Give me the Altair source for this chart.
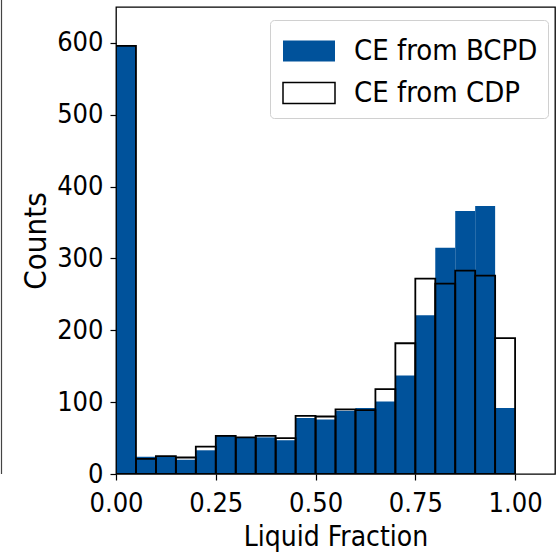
import altair as alt
import pandas as pd

bin_starts = [0.00, 0.05, 0.10, 0.15, 0.20, 0.25, 0.30, 0.35, 0.40, 0.45,
              0.50, 0.55, 0.60, 0.65, 0.70, 0.75, 0.80, 0.85, 0.90, 0.95]
bcpd_counts = [596, 24, 25, 20, 33, 53, 50, 51, 47, 78,
               76, 88, 92, 101, 137, 221, 315, 366, 373, 92]
cdp_counts = [596, 21, 25, 23, 38, 53, 51, 53, 50, 81,
              80, 90, 89, 118, 182, 272, 265, 283, 276, 189]
series_names = ["CE from BCPD", "CE from CDP"]
bin_width = 0.05

rows = []
for name, counts in zip(series_names, [bcpd_counts, cdp_counts]):
    for s, c in zip(bin_starts, counts):
        rows.append({"series": name, "start": s, "end": round(s + bin_width, 2), "count": c})
df = pd.DataFrame(rows)

FONT = "DejaVu Sans Condensed, DejaVu Sans"
BLUE = "#00529B"

bars = alt.Chart(df).mark_bar(strokeWidth=1.8, clip=True).encode(
    x=alt.X("start:Q",
            scale=alt.Scale(domain=[0, 1.1], nice=False, zero=False),
            axis=alt.Axis(values=[0, 0.25, 0.5, 0.75, 1.0], format=".2f",
                          title="Liquid Fraction", titleX=219.5, titleY=71,
                          titleBaseline="alphabetic", labelPadding=10,
                          labelBaseline="top", labelFlush=False)),
    x2="end:Q",
    y=alt.Y("count:Q", stack=None,
            scale=alt.Scale(domain=[0, 650], nice=False),
            axis=alt.Axis(values=[0, 100, 200, 300, 400, 500, 600],
                          title="Counts", titleX=-80, titleY=233.5,
                          titleAngle=270, titleBaseline="middle",
                          titleAlign="center", labelPadding=7,
                          labelFlush=False, labelFontSize=27,
                          titleFontSize=31)),
    y2=alt.datum(0),
    fill=alt.Fill("series:N",
                  scale=alt.Scale(domain=series_names, range=[BLUE, "transparent"]),
                  legend=alt.Legend(title=None)),
    stroke=alt.Stroke("series:N",
                      scale=alt.Scale(domain=series_names, range=["transparent", "black"]),
                      legend=alt.Legend(title=None)),
)

edge = alt.Chart(pd.DataFrame({"a": [0]})).mark_rule(
    color="#444444", strokeWidth=1.2, clip=False
).encode(x=alt.value(-114.5), y=alt.value(-7), y2=alt.value(467))

chart = alt.layer(bars, edge).properties(
    width=439, height=467,
    autosize=alt.AutoSizeParams(type="none"),
    padding={"left": 116, "top": 7, "right": 5, "bottom": 80},
).configure_view(
    stroke="black", strokeWidth=1.3
).configure_axis(
    grid=False, domain=False, tickColor="black", tickSize=6, tickWidth=1.2,
    labelFont=FONT, labelFontSize=27, labelColor="black",
    titleFont=FONT, titleFontSize=28, titleFontWeight="normal", titleColor="black",
).configure_legend(
    orient="none", legendX=154, legendY=13,
    labelFont=FONT, labelFontSize=29, labelColor="black",
    symbolType="M-1.3,-0.525H1.3V0.525H-1.3Z", symbolSize=1600,
    symbolStrokeWidth=1.5, symbolOffset=8, labelOffset=24,
    rowPadding=6, padding=10, strokeColor="#d0d0d0", cornerRadius=4,
    fillColor="white", labelLimit=400,
)

chart.save("out.html", embed_options={"renderer": "svg", "actions": False})
